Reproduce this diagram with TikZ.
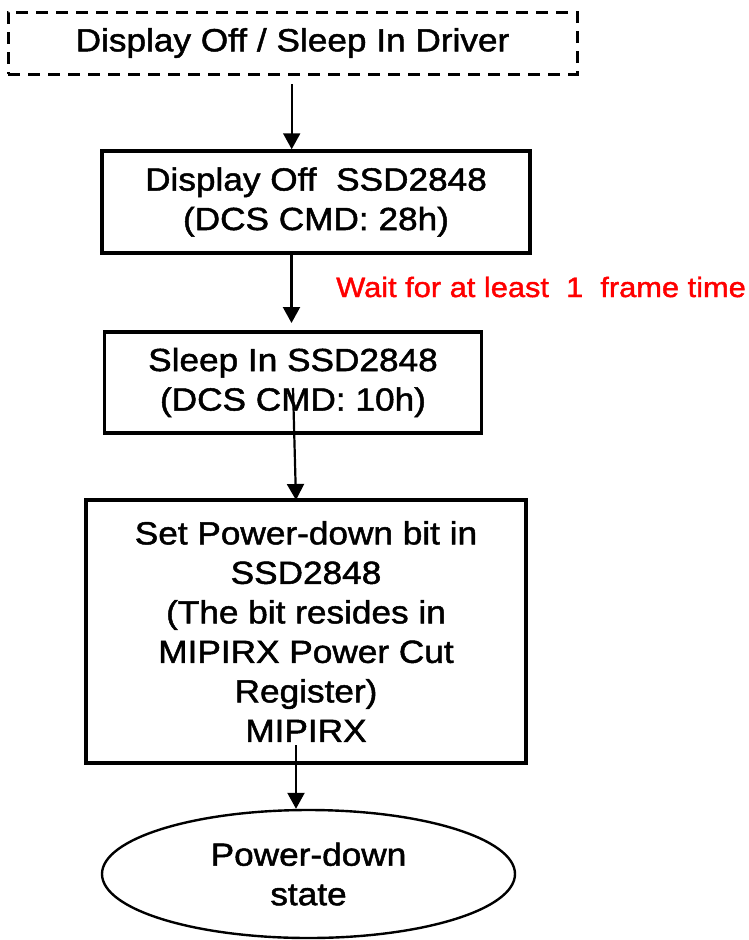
\documentclass[tikz,border=0pt]{standalone}
\usepackage{fontspec}
\setmainfont{Liberation Sans}[FakeStretch=1.1, FakeBold=1.5]
\usetikzlibrary{shapes.geometric,arrows.meta}
\begin{document}
\begin{tikzpicture}[x=1pt,y=-1pt,
  every node/.style={font=\fontsize{32}{39.5}\selectfont, align=center, inner sep=0pt},
  stepbox/.style={draw, line width=3.5pt, rectangle},
  dashbox/.style={draw, line width=3pt, rectangle, dash pattern=on 12pt off 8pt},
  endbox/.style={draw, line width=2.4pt, ellipse},
  flow/.style={line width=2.2pt, -{Triangle[length=16pt,width=17pt]}},
  note/.style={text=red, font=\fontsize{28}{34}\selectfont}
]
\useasboundingbox (0,0) rectangle (748,940);
\fill[white] (0,0) rectangle (748,940);

\node[dashbox, minimum width=569pt, minimum height=62pt] (b1) at (292.5,43) {Display Off / Sleep In Driver};
\node[stepbox, minimum width=428pt, minimum height=102pt] (b2) at (316,202) {Display Off\ \ SSD2848\\(DCS CMD: 28h)};
\node[stepbox, minimum width=377pt, minimum height=101pt] (b3) at (293,382.5) {Sleep In SSD2848\\(DCS CMD: 10h)};
\node[stepbox, minimum width=440pt, minimum height=263pt] (b4) at (306,631.5) {Set Power-down bit in\\SSD2848\\(The bit resides in\\MIPIRX Power Cut\\Register)\\MIPIRX};
\node[endbox, minimum width=413pt, minimum height=128pt] (e) at (308.5,874) {Power-down\\state};
\node[note, anchor=west] (w) at (336,287) {Wait for at least\ \ 1\ \ frame time};

\coordinate (s1) at (291.7,84);
\coordinate (s2) at (291.5,253);
\coordinate (t2) at (291.5,323);
\coordinate (s3) at (293,388);
\coordinate (t3) at (296,500);
\coordinate (s4) at (296,745);

\draw[flow] (s1) -- (s1 |- b2.north);
\draw[flow] (s2) -- (t2);
\draw[flow] (s3) -- (t3);
\draw[flow] (s4) -- (s4 |- e.north);
\end{tikzpicture}
\end{document}
